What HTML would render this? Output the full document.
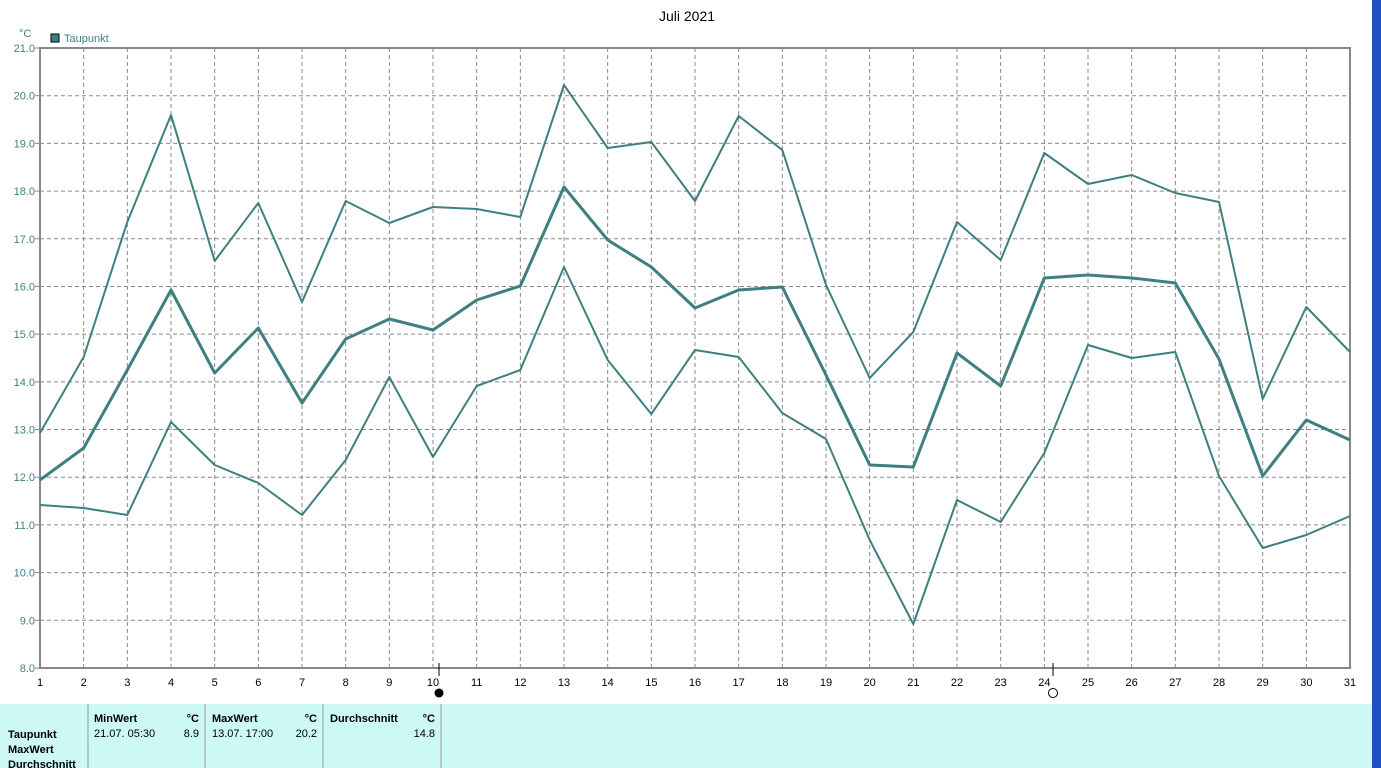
<!DOCTYPE html>
<html><head><style>
body{margin:0;width:1381px;height:768px;overflow:hidden;background:#fff;font-family:"Liberation Sans",sans-serif;position:relative}
.b{font-weight:bold}
</style></head><body>
<svg width="1381" height="768" style="position:absolute;left:0;top:0" font-family="Liberation Sans, sans-serif">
<rect x="1372" y="0" width="9" height="768" fill="#1f4fc0"/>
<text x="687" y="21" font-size="14" text-anchor="middle">Juli 2021</text>
<text x="19" y="37" font-size="11" fill="#3f7f7f">°C</text>
<rect x="51" y="34" width="8" height="8" fill="#3f7f7f" stroke="#000"/>
<text x="64" y="42" font-size="11" fill="#3f7f7f">Taupunkt</text>
<g id="grid" stroke="#888" stroke-dasharray="4,3" stroke-width="1"></g>
<rect x="40" y="48" width="1310" height="620" fill="none" stroke="#888" stroke-width="2"/>
<g id="yl" font-size="11" fill="#3f7f7f" text-anchor="end"></g>
<g id="xl" font-size="11" fill="#000" text-anchor="middle"></g>
<g fill="none" stroke="#3f7f7f" stroke-linejoin="round">
<polyline id="pmax" stroke-width="2"/>
<polyline id="pavg" stroke-width="3"/>
<polyline id="pmin" stroke-width="2"/>
</g>
<line x1="439" y1="663" x2="439" y2="676" stroke="#000"/>
<circle cx="439" cy="693" r="4.5" fill="#000"/>
<line x1="1053" y1="663" x2="1053" y2="676" stroke="#000"/>
<circle cx="1053" cy="693" r="4.5" fill="none" stroke="#000"/>
<rect x="0" y="704" width="1372" height="64" fill="#ccf8f6"/>
<g stroke="#999"><line x1="88" y1="704" x2="88" y2="768"/><line x1="205" y1="704" x2="205" y2="768"/><line x1="323" y1="704" x2="323" y2="768"/><line x1="441" y1="704" x2="441" y2="768"/></g>
<g font-size="11">
<text x="94" y="722" class="b" font-weight="bold">MinWert</text><text x="199" y="722" text-anchor="end" font-weight="bold">°C</text>
<text x="212" y="722" font-weight="bold">MaxWert</text><text x="317" y="722" text-anchor="end" font-weight="bold">°C</text>
<text x="330" y="722" font-weight="bold">Durchschnitt</text><text x="435" y="722" text-anchor="end" font-weight="bold">°C</text>
<text x="94" y="737">21.07.  05:30</text><text x="199" y="737" text-anchor="end">8.9</text>
<text x="212" y="737">13.07.  17:00</text><text x="317" y="737" text-anchor="end">20.2</text>
<text x="435" y="737" text-anchor="end">14.8</text>
<text x="8" y="738" font-weight="bold">Taupunkt</text>
<text x="8" y="753" font-weight="bold">MaxWert</text>
<text x="8" y="768" font-weight="bold">Durchschnitt</text>
</g>
</svg>
<script>
var ns="http://www.w3.org/2000/svg";
function el(p,t,a,txt){var e=document.createElementNS(ns,t);for(var k in a)e.setAttribute(k,a[k]);if(txt)e.textContent=txt;document.getElementById(p).appendChild(e);}
var dx=1310/30;
for(var i=0;i<31;i++){var x=40+i*dx;if(i>0&&i<30)el("grid","line",{x1:x,y1:48,x2:x,y2:668});el("xl","text",{x:x,y:686},String(i+1));}
for(var v=8;v<=21;v++){var y=668-(v-8)*620/13;if(v>8&&v<21)el("grid","line",{x1:40,y1:y,x2:1350,y2:y});el("yl","text",{x:35,y:y+4},v.toFixed(1));el("grid","line",{x1:35,y1:y,x2:40,y2:y,"stroke-dasharray":"none"});}
var mx=[433,357,222,115,261,203,302,201,223,207,209,217,85,148,142,201,116,150,285,378,332,222,260,153,184,175,193,202,399,307,352];
var av=[480,448,370,290,373,328,403,339,319,330,300,286,187,240,267,308,290,287,375,465,467,353,386,278,275,278,283,359,476,420,440];
var mn=[505,508,515,422,465,483,515,460,377,457,386,370,267,360,414,350,357,413,439,540,624,500,522,453,345,358,352,476,548,535,516];
function pts(a){return a.map(function(y,i){return (40+i*dx).toFixed(1)+","+y}).join(" ");}
document.getElementById("pmax").setAttribute("points",pts(mx));
document.getElementById("pavg").setAttribute("points",pts(av));
document.getElementById("pmin").setAttribute("points",pts(mn));
</script>
</body></html>
